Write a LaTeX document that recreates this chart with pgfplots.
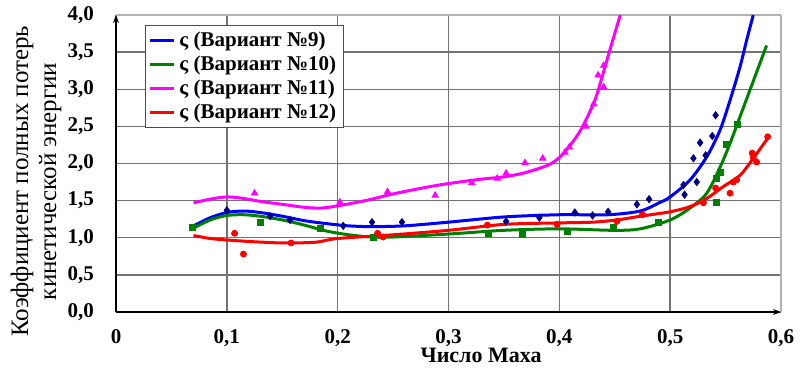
\documentclass[border=0pt]{standalone}
\usepackage{fontspec}
\setmainfont{Liberation Serif}
\usepackage{pgfplots}
\pgfplotsset{compat=1.18}
\usetikzlibrary{arrows.meta}
\definecolor{mygreen}{RGB}{0,128,0}
\definecolor{navy}{RGB}{0,0,128}
\definecolor{mymag}{RGB}{255,0,255}
\begin{document}
\begin{tikzpicture}
\begin{axis}[name=ax, scale only axis, width=332.5pt, height=148.5pt,
 xmin=0, xmax=0.6, ymin=0, ymax=4,
 axis lines=left,
 axis line style={line width=1.2pt, black, -{Stealth[length=4pt,width=3pt]}},
 xtick={0,0.1,0.2,0.3,0.4,0.5},
 xticklabels={0,{0,1},{0,2},{0,3},{0,4},{0,5}},
 extra x ticks={0.6}, extra x tick labels={0{,}6},
 extra x tick style={grid style={black!30, line width=0.6pt}},
 ytick={0,0.5,1,1.5,2,2.5,3,3.5},
 yticklabels={{0,0},{0,5},{1,0},{1,5},{2,0},{2,5},{3,0},{3,5}},
 extra y ticks={4}, extra y tick labels={4{,}0},
 extra y tick style={grid style={black!30, line width=0.6pt}},
 major tick length=0pt,
 grid=major, grid style={black!55, line width=0.7pt},
 tick label style={font=\bfseries\fontsize{10.5}{12}\selectfont},
 xticklabel style={yshift=-7.5pt, inner sep=1pt},
 yticklabel style={xshift=-7.5pt},
 xlabel={Число Маха},
 xlabel style={font=\bfseries\fontsize{11}{13}\selectfont, inner sep=0pt, at={(rel axis cs:0.549,0)}, anchor=center, yshift=-21.5pt},
 ylabel={Коэффициент полных потерь\\кинетической энергии},
 ylabel style={font=\fontsize{12.5}{14}\selectfont, align=center, at={(rel axis cs:-0.1203,0.44)}, anchor=center},
 legend style={at={(rel axis cs:0.0436,0.966)}, anchor=north west, draw=black!70, line width=0.5pt,
   font=\bfseries\fontsize{10.5}{11.5}\selectfont, inner sep=1.5pt, fill=white, cells={anchor=west},
   nodes={inner ysep=1.6pt}},
 legend image code/.code={\draw[#1, line width=1.5pt] (0pt,0pt) -- (12pt,0pt);},
]
\addplot[blue, line width=1.5pt, smooth, no markers] coordinates {
(0.070,1.16) (0.085,1.27) (0.100,1.34) (0.115,1.36) (0.130,1.34) (0.150,1.29) (0.170,1.23) (0.190,1.19) (0.210,1.16) (0.230,1.15) (0.260,1.16) (0.300,1.21) (0.350,1.28) (0.400,1.31) (0.444,1.31) (0.473,1.36) (0.490,1.47) (0.500,1.55) (0.518,1.78) (0.533,2.09) (0.545,2.45) (0.554,2.85) (0.563,3.30) (0.569,3.66) (0.575,4.00)};
\addlegendentry{ς (Вариант №9)}
\addplot[mygreen, line width=1.5pt, smooth, no markers] coordinates {
(0.070,1.13) (0.085,1.24) (0.100,1.30) (0.115,1.31) (0.130,1.29) (0.150,1.24) (0.170,1.17) (0.190,1.09) (0.210,1.04) (0.230,1.01) (0.250,1.01) (0.300,1.05) (0.350,1.10) (0.400,1.12) (0.449,1.10) (0.473,1.12) (0.500,1.24) (0.518,1.40) (0.533,1.60) (0.545,1.95) (0.554,2.27) (0.563,2.63) (0.572,2.99) (0.581,3.35) (0.587,3.59)};
\addlegendentry{ς (Вариант №10)}
\addplot[mymag, line width=1.5pt, smooth, no markers] coordinates {
(0.070,1.47) (0.085,1.52) (0.100,1.55) (0.115,1.53) (0.130,1.49) (0.150,1.45) (0.170,1.41) (0.185,1.40) (0.200,1.43) (0.225,1.50) (0.250,1.59) (0.280,1.68) (0.300,1.73) (0.330,1.79) (0.350,1.82) (0.370,1.88) (0.390,1.98) (0.400,2.08) (0.410,2.25) (0.420,2.47) (0.432,2.85) (0.440,3.24) (0.447,3.60) (0.455,4.00)};
\addlegendentry{ς (Вариант №11)}
\addplot[red, line width=1.5pt, smooth, no markers] coordinates {
(0.070,1.03) (0.085,0.99) (0.100,0.97) (0.120,0.95) (0.150,0.93) (0.180,0.94) (0.200,0.99) (0.250,1.04) (0.300,1.10) (0.350,1.18) (0.400,1.20) (0.430,1.21) (0.452,1.24) (0.473,1.29) (0.500,1.35) (0.518,1.42) (0.533,1.53) (0.548,1.69) (0.563,1.84) (0.575,2.07) (0.588,2.34)};
\addlegendentry{ς (Вариант №12)}
\addplot[only marks, mark=diamond*, mark size=1.8pt, navy, forget plot] coordinates {
(0.100,1.37) (0.139,1.29) (0.157,1.24) (0.205,1.16) (0.231,1.21) (0.258,1.21) (0.352,1.22) (0.382,1.27) (0.414,1.34) (0.430,1.30) (0.444,1.35) (0.470,1.45) (0.481,1.52) (0.512,1.71) (0.513,1.58) (0.521,2.07) (0.524,1.75) (0.527,2.28) (0.532,2.11) (0.538,2.37) (0.541,2.65)};
\addplot[only marks, mark=square*, mark size=1.5pt, mygreen, forget plot] coordinates {
(0.069,1.14) (0.130,1.21) (0.184,1.13) (0.232,1.01) (0.336,1.06) (0.367,1.05) (0.407,1.08) (0.449,1.14) (0.489,1.21) (0.542,1.47) (0.542,1.80) (0.545,1.88) (0.551,2.26) (0.561,2.52)};
\addplot[only marks, mark=triangle*, mark size=1.8pt, mymag, forget plot] coordinates {
(0.125,1.60) (0.202,1.48) (0.245,1.62) (0.288,1.57) (0.321,1.74) (0.344,1.80) (0.352,1.87) (0.369,2.01) (0.385,2.07) (0.405,2.15) (0.409,2.22) (0.424,2.50) (0.431,2.80) (0.435,3.19) (0.440,3.03) (0.440,3.32)};
\addplot[only marks, mark=*, mark size=1.5pt, red, forget plot] coordinates {
(0.107,1.06) (0.115,0.78) (0.158,0.93) (0.236,1.06) (0.241,1.01) (0.335,1.17) (0.398,1.18) (0.452,1.22) (0.475,1.31) (0.530,1.47) (0.541,1.67) (0.554,1.60) (0.557,1.75) (0.560,1.78) (0.575,2.08) (0.574,2.14) (0.578,2.02) (0.588,2.36)};
\end{axis}
\pgfresetboundingbox
\path[use as bounding box] ([shift={(-58pt,-28.5pt)}]ax.south west) rectangle ([shift={(15pt,7.5pt)}]ax.north east);
\end{tikzpicture}
\end{document}
